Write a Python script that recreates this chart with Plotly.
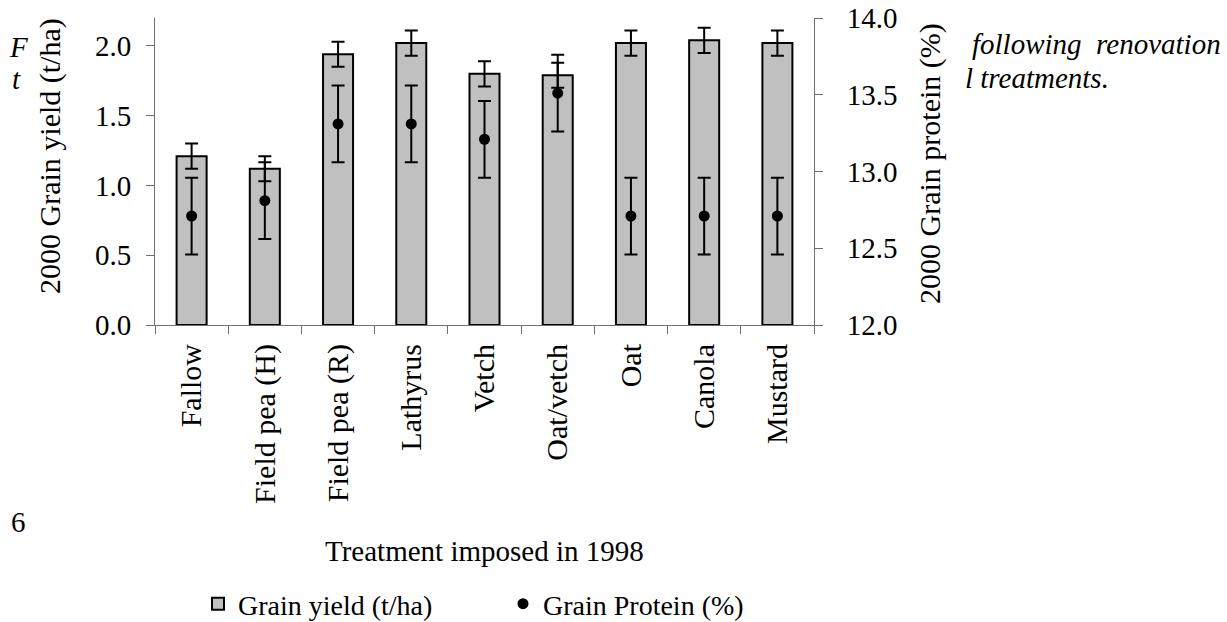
import plotly.graph_objects as go

treatments = ["Fallow", "Field pea (H)", "Field pea (R)", "Lathyrus", "Vetch",
              "Oat/vetch", "Oat", "Canola", "Mustard"]
grain_yield = [1.21, 1.12, 1.94, 2.02, 1.80, 1.79, 2.02, 2.04, 2.02]
yield_err = [0.09, 0.09, 0.09, 0.09, 0.09, 0.09, 0.09, 0.09, 0.09]
grain_protein = [12.71, 12.81, 13.31, 13.31, 13.21, 13.51, 12.71, 12.71, 12.71]
protein_err = [0.25, 0.25, 0.25, 0.25, 0.25, 0.25, 0.25, 0.25, 0.25]
yield_ticks = [0.0, 0.5, 1.0, 1.5, 2.0]
protein_ticks = [12.0, 12.5, 13.0, 13.5, 14.0]

W, H = 1227, 622
L, R, T, B = 155, 814, 18, 325
PW, PH = R - L, B - T


def px(x):
    return (x - L) / PW


def py(y):
    return (B - y) / PH


FONT = "Liberation Serif, Times New Roman, serif"
AX = "#707070"

fig = go.Figure()
fig.add_trace(go.Bar(
    x=treatments, y=grain_yield, name="Grain yield (t/ha)",
    marker=dict(color="#c0c0c0", line=dict(color="black", width=2)),
    width=0.41,
    error_y=dict(type="data", array=yield_err, color="black", thickness=2, width=6.5),
    yaxis="y",
))
fig.add_trace(go.Scatter(
    x=treatments, y=grain_protein, name="Grain Protein (%)", mode="markers",
    marker=dict(color="black", size=11),
    error_y=dict(type="data", array=protein_err, color="black", thickness=2, width=6.5),
    yaxis="y2",
))

n = len(treatments)
bounds = [i - 0.5 for i in range(n + 1)]

fig.update_layout(
    width=W, height=H,
    margin=dict(l=L, r=W - R, t=T, b=H - B, pad=0, autoexpand=False),
    paper_bgcolor="white", plot_bgcolor="white",
    font=dict(family=FONT, size=28, color="black"),
    showlegend=True,
    xaxis=dict(
        type="category", categoryorder="array", categoryarray=treatments,
        range=[-0.5, n - 0.5], automargin=False,
        showline=True, linecolor=AX, linewidth=1,
        ticks="outside", ticklen=8, tickcolor=AX, tickwidth=1,
        tickson="boundaries", tickangle=-90,
        tickfont=dict(family=FONT, size=30, color="black"),
        showgrid=False, zeroline=False,
        ticklabelstandoff=6,
    ),
    xaxis3=dict(
        overlaying="x", anchor="y", range=[-0.5, n - 0.5], automargin=False,
        tickmode="array", tickvals=bounds, ticks="inside", ticklen=8,
        tickcolor=AX, tickwidth=1, showticklabels=False,
        showline=False, showgrid=False, zeroline=False, side="bottom",
    ),
    yaxis=dict(
        range=[0, 2.2], tickmode="array", tickvals=yield_ticks, automargin=False,
        ticktext=[f"{v:.1f}" for v in yield_ticks],
        showline=True, linecolor=AX, linewidth=1,
        ticks="outside", ticklen=8, tickcolor=AX, tickwidth=1,
        tickfont=dict(family=FONT, size=29, color="black"),
        showgrid=False, zeroline=False, ticklabelstandoff=9,
    ),
    yaxis3=dict(
        overlaying="y", anchor="x", side="left", range=[0, 2.2], automargin=False,
        tickmode="array", tickvals=yield_ticks, ticks="inside", ticklen=8,
        tickcolor=AX, tickwidth=1, showticklabels=False,
        showline=False, showgrid=False, zeroline=False,
    ),
    yaxis2=dict(
        overlaying="y", anchor="x", side="right", range=[12, 14], automargin=False,
        tickmode="array", tickvals=protein_ticks,
        ticktext=[f"{v:.1f}" for v in protein_ticks],
        showline=True, linecolor=AX, linewidth=1,
        ticks="outside", ticklen=8, tickcolor=AX, tickwidth=1,
        tickfont=dict(family=FONT, size=29, color="black"),
        showgrid=False, zeroline=False, ticklabelstandoff=18,
    ),
    yaxis4=dict(
        overlaying="y", anchor="x", side="right", range=[12, 14], automargin=False,
        tickmode="array", tickvals=protein_ticks, ticks="inside", ticklen=8,
        tickcolor=AX, tickwidth=1, showticklabels=False,
        showline=False, showgrid=False, zeroline=False,
    ),
    legend=dict(
        orientation="h", xref="container", yref="container",
        x=198 / W, y=1 - 604 / H, xanchor="left", yanchor="middle",
        entrywidth=260, entrywidthmode="pixels",
        font=dict(family=FONT, size=28, color="black"),
        bgcolor="rgba(0,0,0,0)",
    ),
)

annotations = [
    dict(text="Treatment imposed in 1998", x=px(484), y=py(551), size=29, ang=0, xa="center"),
    dict(text="2000 Grain yield (t/ha)", x=px(50), y=py(156), size=30, ang=-90, xa="center"),
    dict(text="2000 Grain protein (%)", x=px(930), y=py(164), size=30, ang=-90, xa="center"),
    dict(text="<i>F</i>", x=px(18), y=py(47), size=29, ang=0, xa="center"),
    dict(text="<i>t</i>", x=px(16), y=py(79), size=29, ang=0, xa="center"),
    dict(text="6", x=px(18), y=py(522), size=29, ang=0, xa="center"),
    dict(text="<i>following  renovation</i>", x=px(1223), y=py(44), size=29, ang=0, xa="right"),
    dict(text="<i>l treatments.</i>", x=px(963), y=py(78), size=29, ang=0, xa="left"),
]
for a in annotations:
    fig.add_annotation(
        text=a["text"], x=a["x"], y=a["y"], xref="paper", yref="paper",
        xanchor=a["xa"], yanchor="middle", showarrow=False,
        textangle=a["ang"], font=dict(family=FONT, size=a["size"], color="black"),
    )

fig.write_html(
    "out.html",
    config={"displayModeBar": False},
    post_script="document.documentElement.style.margin='0';document.body.style.margin='0';",
)
